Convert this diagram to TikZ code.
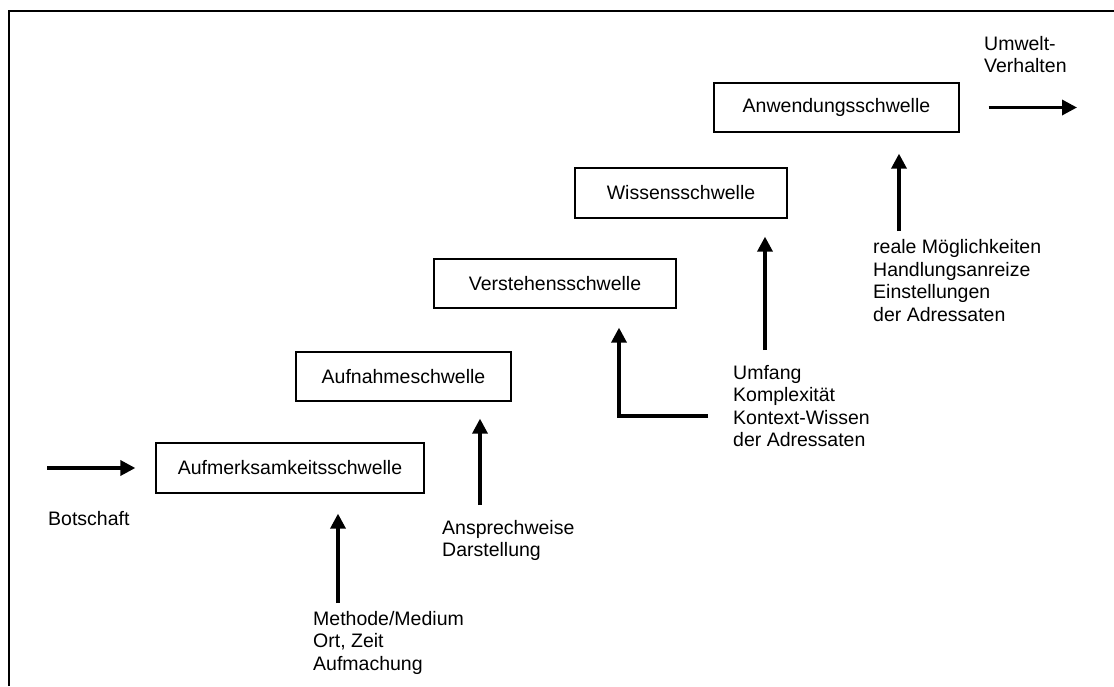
\documentclass[tikz,border=0pt]{standalone}
\usepackage{fontspec}
\setmainfont{Liberation Sans}
\usetikzlibrary{arrows.meta}
\tikzset{
  txt/.style={font=\fontsize{19.5}{22.5}\selectfont},
  schwelle/.style={txt, draw, line width=1.3pt, inner sep=0pt},
  lbl/.style={txt, align=left, inner sep=0pt, anchor=north west},
  arr/.style={line width=3.4pt, -{Triangle[length=15pt,width=15pt]}},
  frame/.style={line width=2.2pt}
}
\begin{document}
\begin{tikzpicture}[x=1pt,y=-1pt]
\useasboundingbox (0,0) rectangle (1114,686);
% outer frame (top and left edges)
\draw[frame] (9,686) -- (9,11) -- (1114,11);

% the five thresholds
\node[schwelle, minimum width=268pt, minimum height=50pt] (b1) at (290,468) {Aufmerksamkeitsschwelle};
\node[schwelle, minimum width=215pt, minimum height=49pt] (b2) at (403.5,376.5) {Aufnahmeschwelle};
\node[schwelle, minimum width=242pt, minimum height=49pt] (b3) at (555,283.5) {Verstehensschwelle};
\node[schwelle, minimum width=212pt, minimum height=50pt] (b4) at (681,193) {Wissensschwelle};
\node[schwelle, minimum width=245pt, minimum height=49pt] (b5) at (836.5,107.5) {Anwendungsschwelle};

% influencing factors
\node[lbl] (tbot) at (48,511) {Botschaft};
\node[lbl] (t1) at (313,611) {Methode/Medium\\Ort, Zeit\\Aufmachung};
\node[lbl] (t2) at (442,520) {Ansprechweise\\Darstellung};
\node[lbl] (t3) at (733,365) {Umfang\\Komplexität\\Kontext-Wissen\\der Adressaten};
\node[lbl] (t5) at (873,239.5) {reale Möglichkeiten\\Handlungsanreize\\Einstellungen\\der Adressaten};
\node[lbl] (tuw) at (984,36) {Umwelt-\\Verhalten};

% connectors
\coordinate (bs) at (47,468);
\coordinate (uw) at (1077,107.5);
\coordinate (a1) at (338,603);
\coordinate (a2) at (480,505);
\coordinate (a3) at (708,416);
\coordinate (a3k) at (619,416);
\coordinate (a4) at (765,350);
\coordinate (a5) at (899,231);

\draw[arr, shorten >=20pt] (bs) -- (b1.west);
\draw[arr, shorten <=29pt] (b5.east) -- (uw);
\draw[arr, shorten >=20pt] (a1) -- (a1 |- b1.south);
\draw[arr, shorten >=17pt] (a2) -- (a2 |- b2.south);
\draw[arr, shorten >=19pt] (a3) -- (a3k) -- (a3k |- b3.south);
\draw[arr, shorten >=18pt] (a4) -- (a4 |- b4.south);
\draw[arr, shorten >=21pt] (a5) -- (a5 |- b5.south);
\end{tikzpicture}
\end{document}
